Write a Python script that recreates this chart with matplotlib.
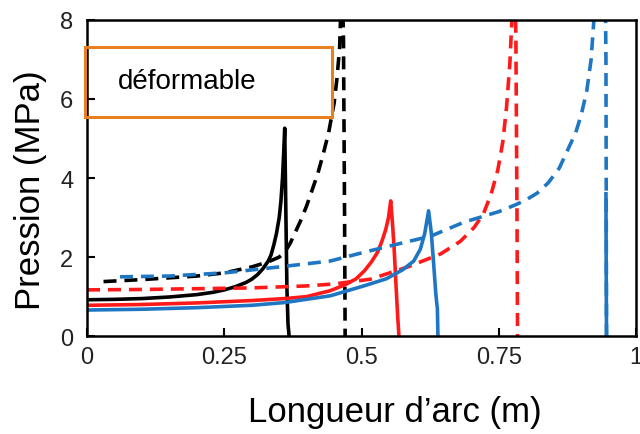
import matplotlib
matplotlib.use("Agg")
import matplotlib.pyplot as plt
from matplotlib.patches import Rectangle

# longueur d'arc (m) / pression (MPa)
x_noir = [0, 0.05, 0.1, 0.15, 0.2, 0.23, 0.25, 0.27, 0.29, 0.3, 0.31, 0.32, 0.33, 0.335, 0.34, 0.345,
          0.35, 0.353, 0.356, 0.358, 0.36, 0.362, 0.364, 0.366, 0.368]
p_noir = [0.92, 0.93, 0.95, 0.99, 1.05, 1.11, 1.17, 1.25, 1.36, 1.44, 1.55, 1.7, 1.9, 2.05, 2.3, 2.6,
          3.0, 3.4, 4.0, 4.6, 5.26, 3.2, 1.2, 0.3, 0]

x_noir_d = [0.03, 0.1, 0.2, 0.25, 0.3, 0.33, 0.35, 0.36, 0.37, 0.38, 0.39, 0.4, 0.41, 0.42, 0.43, 0.44,
            0.45, 0.455, 0.46, 0.462, 0.466, 0.467, 0.469, 0.47]
p_noir_d = [1.38, 1.43, 1.52, 1.6, 1.75, 1.88, 2.0, 2.12, 2.35, 2.65, 2.95, 3.3, 3.7, 4.1, 4.6, 5.15,
            5.9, 6.5, 7.3, 8.2, 8.2, 7.5, 3.0, 0]

x_rouge = [0, 0.1, 0.2, 0.3, 0.36, 0.4, 0.443, 0.47, 0.49, 0.505, 0.518, 0.529, 0.537, 0.544, 0.549,
           0.553, 0.556, 0.559, 0.563, 0.566, 0.568]
p_rouge = [0.78, 0.8, 0.84, 0.9, 0.95, 1.0, 1.15, 1.3, 1.45, 1.65, 1.88, 2.12, 2.4, 2.7, 3.0,
           3.42, 2.9, 2.28, 1.2, 0.43, 0]

x_rouge_d = [0, 0.1, 0.2, 0.3, 0.4, 0.45, 0.516, 0.584, 0.644, 0.68, 0.705, 0.722, 0.736, 0.748, 0.757,
             0.764, 0.77, 0.775, 0.78, 0.781, 0.783, 0.784]
p_rouge_d = [1.17, 1.18, 1.2, 1.22, 1.27, 1.32, 1.44, 1.75, 2.08, 2.4, 2.75, 3.1, 3.6, 4.2, 4.9,
             5.8, 6.9, 8.4, 8.4, 7.5, 3.0, 0]

x_bleu = [0, 0.1, 0.2, 0.3, 0.36, 0.443, 0.504, 0.545, 0.575, 0.595, 0.607, 0.615, 0.622, 0.627,
          0.631, 0.635, 0.637, 0.638, 0.639]
p_bleu = [0.66, 0.68, 0.72, 0.78, 0.85, 1.02, 1.27, 1.45, 1.68, 1.9, 2.2, 2.6, 3.17, 2.6,
          1.87, 1.1, 0.81, 0.7, 0]

x_bleu_d = [0.06, 0.15, 0.25, 0.35, 0.443, 0.504, 0.566, 0.626, 0.686, 0.75, 0.78, 0.8, 0.82, 0.84,
            0.86, 0.875, 0.89, 0.9, 0.91, 0.918, 0.925, 0.944, 0.945, 0.946]
p_bleu_d = [1.5, 1.52, 1.6, 1.75, 1.9, 2.12, 2.33, 2.53, 2.88, 3.15, 3.32, 3.45, 3.62, 3.88,
            4.25, 4.7, 5.15, 5.6, 6.2, 7.0, 8.4, 8.4, 7.0, 0]

# the lower end of the blue drop looks continuous in the figure
x_bleu_fin = [0.945, 0.9455, 0.946]
p_bleu_fin = [3.6, 1.5, 0]

rouge = "#ff1a1a"
bleu = "#1f77c4"
orange = "#e8801f"
dash = (0, (3.6, 2.2))
lw = 2.6

fig = plt.figure(figsize=(6.4, 4.35), dpi=100)
ax = fig.add_axes([0.136, 0.225, 0.858, 0.727])

ax.plot(x_noir, p_noir, color="black", lw=lw)
ax.plot(x_noir_d, p_noir_d, color="black", lw=lw, ls=dash)
ax.plot(x_rouge, p_rouge, color=rouge, lw=lw)
ax.plot(x_rouge_d, p_rouge_d, color=rouge, lw=lw, ls=dash)
ax.plot(x_bleu, p_bleu, color=bleu, lw=lw)
ax.plot(x_bleu_d, p_bleu_d, color=bleu, lw=lw, ls=dash)
ax.plot(x_bleu_fin, p_bleu_fin, color=bleu, lw=lw)

ax.set_xlim(0, 1)
ax.set_ylim(0, 8)
ax.set_xticks([0, 0.25, 0.5, 0.75, 1])
ax.set_xticklabels(["0", "0.25", "0.5", "0.75", "1"])
ax.set_yticks([0, 2, 4, 6, 8])
ax.tick_params(direction="in", length=6, width=1.5, labelsize=17)
ax.tick_params(axis="x", pad=7)
ax.tick_params(axis="y", pad=10)
for lab in ax.get_xticklabels() + ax.get_yticklabels():
    lab.set_family("Liberation Sans")
    lab.set_color("#222222")
for s in ax.spines.values():
    s.set_linewidth(1.8)

box = Rectangle((-0.004, 5.54), 0.451, 1.78, fill=False, edgecolor=orange, lw=2.2, clip_on=False, zorder=5)
ax.add_patch(box)
ax.text(0.057, 6.46, "déformable", fontsize=20, family="Liberation Sans", va="center", ha="left")

fig.text(0.047, 0.563, "Pression (MPa)", rotation=90, fontsize=25, family="Liberation Sans", ha="center", va="center")
fig.text(0.617, 0.052, "Longueur d\u2019arc (m)", fontsize=25, family="Liberation Sans", ha="center", va="center")

fig.savefig("out.png", dpi=100)
